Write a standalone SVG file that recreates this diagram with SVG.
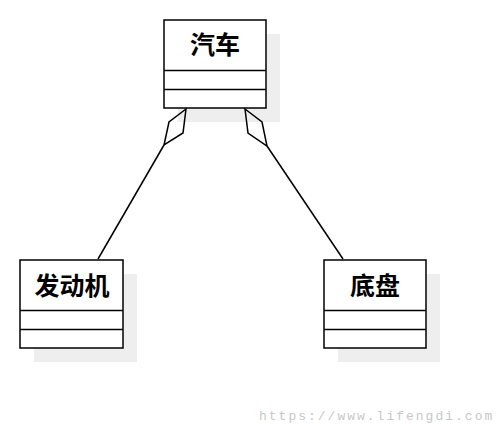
<svg xmlns="http://www.w3.org/2000/svg" width="504" height="428" viewBox="0 0 504 428">
<style>
.shadow{fill:#eeeeee;stroke:none}
.box{fill:#ffffff;stroke:#000000;stroke-width:1.5}
.div{stroke:#000000;stroke-width:1.5}
.title{font-family:"Noto Sans CJK SC","Noto Sans",sans-serif;font-weight:bold;font-size:25px;text-anchor:middle;fill:#000000}
.edge{fill:none;stroke:#000000;stroke-width:1.5}
.wm{font-family:"Liberation Mono",monospace;font-size:13px;letter-spacing:2px;fill:#c8c8c8}
</style>
<rect width="504" height="428" fill="#ffffff"/>
<g id="car">
<rect class="shadow" x="178" y="34" width="102" height="88"/>
<rect class="box" x="164" y="20" width="102" height="88"/>
<line class="div" x1="164" y1="70.5" x2="266" y2="70.5"/>
<line class="div" x1="164" y1="89.5" x2="266" y2="89.5"/>
<text class="title" x="215" y="53.5">汽车</text>
</g>
<g id="engine">
<rect class="shadow" x="34" y="274" width="103" height="88"/>
<rect class="box" x="20" y="260" width="103" height="88"/>
<line class="div" x1="20" y1="310.5" x2="123" y2="310.5"/>
<line class="div" x1="20" y1="329.5" x2="123" y2="329.5"/>
<text class="title" x="72" y="294.5">发动机</text>
</g>
<g id="chassis">
<rect class="shadow" x="338" y="274" width="102" height="88"/>
<rect class="box" x="324" y="260" width="102" height="88"/>
<line class="div" x1="324" y1="310.5" x2="426" y2="310.5"/>
<line class="div" x1="324" y1="329.5" x2="426" y2="329.5"/>
<text class="title" x="375" y="294.5">底盘</text>
</g>
<g id="connectors">
<polygon class="edge" points="186,109 169,122 164,145 183,133"/>
<line class="edge" x1="164" y1="145" x2="98" y2="259"/>
<polygon class="edge" points="245,109 262,122 267,146 248,133"/>
<line class="edge" x1="267" y1="146" x2="343" y2="259"/>
</g>
<text class="wm" x="259" y="420">https://www.lifengdi.com</text>
</svg>
